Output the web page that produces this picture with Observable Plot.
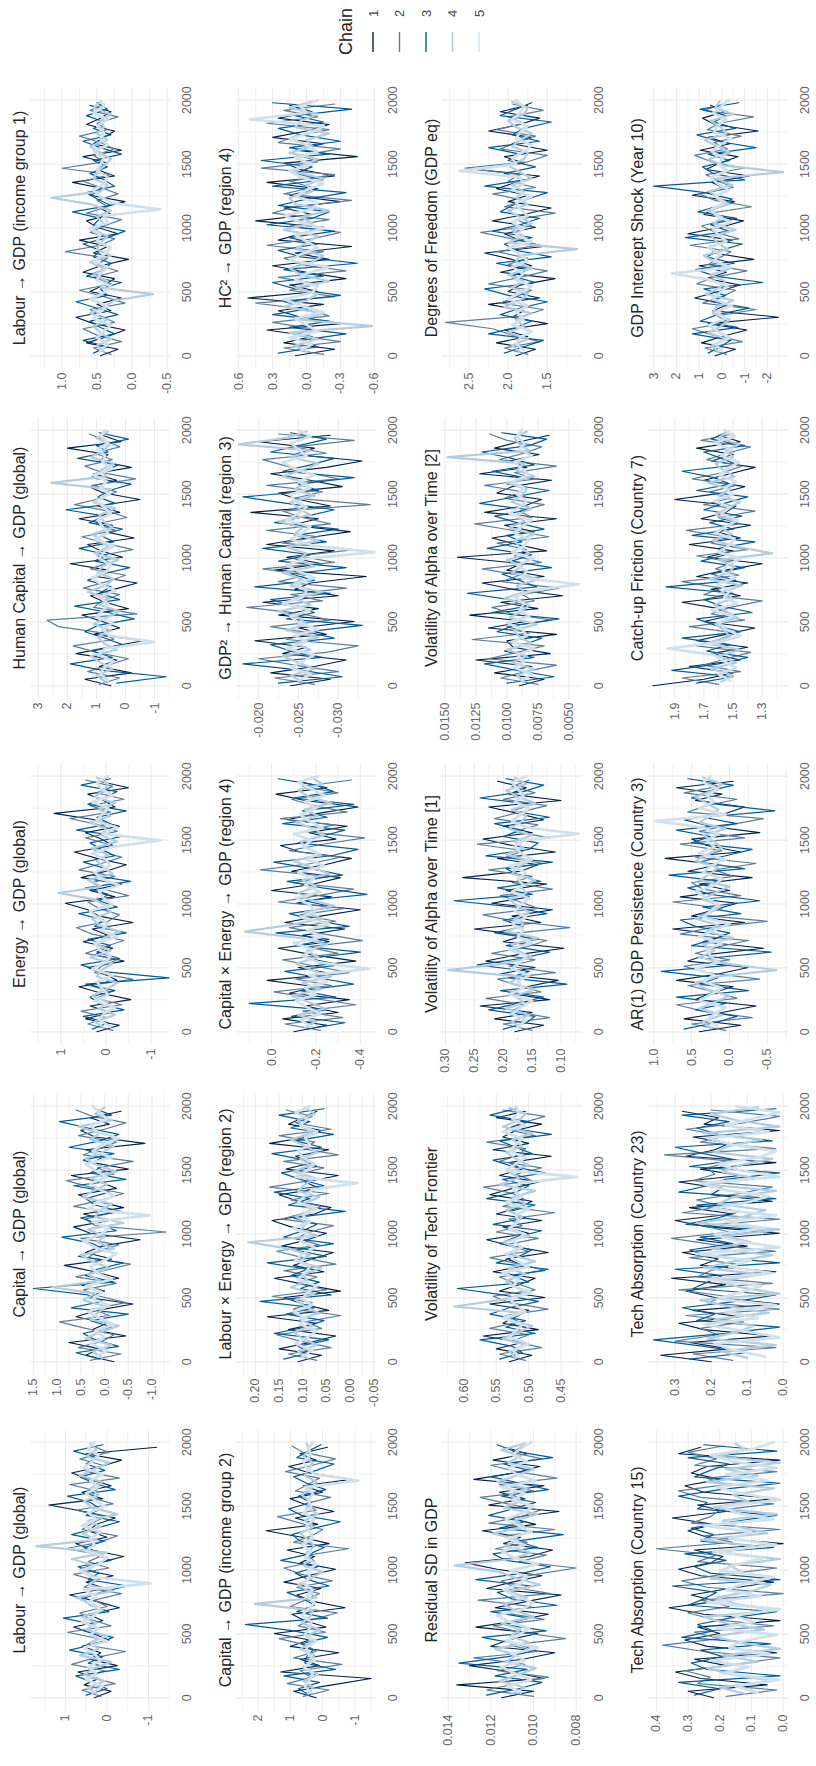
<!DOCTYPE html>
<html><head><meta charset="utf-8">
<script src="https://cdn.jsdelivr.net/npm/d3@7"></script>
<script src="https://cdn.jsdelivr.net/npm/@observablehq/plot@0.6"></script>
<style>
html,body{margin:0;padding:0;background:#fff;width:816px;height:1766px;overflow:hidden;}
#wrap{position:absolute;left:0;top:0;width:1766px;height:816px;transform-origin:0 0;transform:translate(0px,1766px) rotate(-90deg);font-family:"Liberation Sans",Arial,sans-serif;background:#fff;}
.cell{position:absolute;}
</style></head><body><div id="wrap"></div>
<script>
// ---- data (values in panel units; see `units`) ----
const chains = [1, 2, 3, 4, 5];
const chainColors = ["#011f4b", "#5b7d9d", "#005b96", "#b3cde0", "#d1e1ec"];
const titles = [
  "Labour → GDP (global)", "Capital → GDP (global)", "Energy → GDP (global)", "Human Capital → GDP (global)", "Labour → GDP (income group 1)",
  "Capital → GDP (income group 2)", "Labour × Energy → GDP (region 2)", "Capital × Energy → GDP (region 4)", "GDP² → Human Capital (region 3)", "HC² → GDP (region 4)",
  "Residual SD in GDP", "Volatility of Tech Frontier", "Volatility of Alpha over Time [1]", "Volatility of Alpha over Time [2]", "Degrees of Freedom (GDP eq)",
  "Tech Absorption (Country 15)", "Tech Absorption (Country 23)", "AR(1) GDP Persistence (Country 3)", "Catch-up Friction (Country 7)", "GDP Intercept Shock (Year 10)"
];
const units = [0.01, 0.01, 0.01, 0.01, 0.01, 0.01, 0.001, 0.01, 0.0001, 0.01, 0.0001, 0.001, 0.001, 0.0001, 0.01, 0.01, 0.01, 0.01, 0.01, 0.01];
const domains = [
  [-1.53, 1.84], [-1.39, 1.56], [-1.43, 1.67], [-1.55, 3.27], [-0.55, 1.45],
  [-1.67, 2.67], [-0.056, 0.24], [-0.473, 0.158], [-0.0348, -0.0172], [-0.62, 0.62],
  [0.0077, 0.01427], [0.417, 0.633], [0.063, 0.305], [0.0039, 0.0152], [1.05, 2.84],
  [-0.017, 0.425], [-0.015, 0.374], [-0.78, 1.07], [1.12, 2.08], [-2.93, 3.23]
];
const tickValues = [
  [-1, 0, 1], [-1, -0.5, 0, 0.5, 1, 1.5], [-1, 0, 1], [-1, 0, 1, 2, 3], [-0.5, 0, 0.5, 1],
  [-1, 0, 1, 2], [-0.05, 0, 0.05, 0.1, 0.15, 0.2], [-0.4, -0.2, 0], [-0.03, -0.025, -0.02], [-0.6, -0.3, 0, 0.3, 0.6],
  [0.008, 0.01, 0.012, 0.014], [0.45, 0.5, 0.55, 0.6], [0.1, 0.15, 0.2, 0.25, 0.3], [0.005, 0.0075, 0.01, 0.0125, 0.015], [1.5, 2, 2.5],
  [0, 0.1, 0.2, 0.3, 0.4], [0, 0.1, 0.2, 0.3], [-0.5, 0, 0.5, 1], [1.3, 1.5, 1.7, 1.9], [-2, -1, 0, 1, 2, 3]
];
const tickLabels = [
  ["-1", "0", "1"], ["-1.0", "-0.5", "0.0", "0.5", "1.0", "1.5"], ["-1", "0", "1"], ["-1", "0", "1", "2", "3"], ["-0.5", "0.0", "0.5", "1.0"],
  ["-1", "0", "1", "2"], ["-0.05", "0.00", "0.05", "0.10", "0.15", "0.20"], ["-0.4", "-0.2", "0.0"], ["-0.030", "-0.025", "-0.020"], ["-0.6", "-0.3", "0.0", "0.3", "0.6"],
  ["0.008", "0.010", "0.012", "0.014"], ["0.45", "0.50", "0.55", "0.60"], ["0.10", "0.15", "0.20", "0.25", "0.30"], ["0.0050", "0.0075", "0.0100", "0.0125", "0.0150"], ["1.5", "2.0", "2.5"],
  ["0.0", "0.1", "0.2", "0.3", "0.4"], ["0.0", "0.1", "0.2", "0.3"], ["-0.5", "0.0", "0.5", "1.0"], ["1.3", "1.5", "1.7", "1.9"], ["-2", "-1", "0", "1", "2", "3"]
];
const iterTicks = [0, 500, 1000, 1500, 2000];
const iterLabels = ["0", "500", "1000", "1500", "2000"];
const iterMinor = [250, 750, 1250, 1750];

const labourGlobal = [
  [30,-10,55,20,70,-25,40,15,60,-5,35,80,10,45,-30,25,90,5,50,-15,65,20,-40,35,75,0,45,25,-20,55,140,10,60,-10,40,85,15,-35,50,-120],
  [15,60,-20,45,5,85,30,-45,50,20,95,-10,40,65,0,30,-35,55,25,80,-5,45,10,100,20,-25,60,35,5,75,-15,40,25,90,-30,50,10,65,-5,35],
  [50,0,35,75,-30,45,10,90,25,-15,55,30,105,-5,40,60,15,-50,45,20,70,-10,35,55,5,85,25,-30,50,15,40,95,-20,30,65,5,50,25,80,10],
  [25,45,5,55,30,-10,65,20,40,0,50,25,60,10,35,75,-15,45,20,55,30,85,0,170,25,60,15,45,-25,35,55,20,40,10,65,30,-5,50,25,40],
  [35,10,50,25,45,15,30,55,0,40,20,60,30,15,45,25,55,-105,35,65,20,0,50,30,40,15,60,25,45,5,30,50,20,40,10,55,35,20,45,30]
];
const capitalGlobal = [
  [-20,40,10,75,-45,25,-5,60,15,-60,35,0,50,-30,20,85,-15,40,5,-75,30,65,-10,45,-40,15,55,-25,10,70,-50,25,0,40,-85,20,50,-10,30,-35],
  [30,-35,55,5,-20,40,95,-10,25,-45,10,45,-25,60,0,-55,35,15,-30,50,-130,20,40,-15,65,5,-40,30,80,-20,15,-60,45,10,-25,55,0,-45,25,60],
  [10,60,-30,20,45,-15,30,-50,70,5,35,150,-20,40,15,-40,55,0,25,90,-25,10,50,-35,20,40,-10,65,-45,30,5,45,-20,75,10,-30,35,95,-15,20],
  [5,25,-15,40,10,-30,30,15,-5,45,20,110,10,35,-10,25,50,-20,15,0,35,-40,20,10,-15,45,25,-5,30,-25,15,40,5,-20,30,10,55,-15,20,0],
  [15,-5,30,0,20,-20,10,35,-10,25,5,40,-15,15,30,0,-25,20,45,10,-10,25,-95,35,15,-20,10,30,-5,20,40,-15,25,5,-30,15,30,-5,10,25]
];
const energyGlobal = [
  [20,-30,45,-10,35,-55,10,60,-25,5,40,-40,25,-15,50,-5,30,-60,15,40,90,-20,35,-35,55,0,-45,20,70,-15,10,45,-30,25,115,-20,5,40,-50,15],
  [-15,40,0,55,-35,20,-10,35,-60,25,10,-25,45,5,-40,30,65,-5,-30,15,40,-50,5,30,-20,60,10,-35,25,-5,45,-25,15,80,-10,35,-40,20,-15,45],
  [30,-5,50,-40,15,35,-20,45,-140,10,55,-30,20,-10,40,-45,25,5,60,-25,15,-5,45,-55,30,0,50,-20,10,35,-35,65,-10,20,-45,40,5,-25,55,-10],
  [5,25,-20,15,-5,30,0,-25,20,10,-15,35,-10,20,5,-30,15,30,-10,0,25,105,10,40,-15,5,20,-5,30,-25,10,0,35,-10,15,-20,25,5,-5,20],
  [-10,15,5,-20,25,-5,10,20,-15,30,0,-10,15,25,-25,10,-5,20,35,-15,5,15,-30,10,25,-10,0,30,-15,-120,5,-25,20,10,-5,30,-15,10,20,-5]
];
const humanCapitalGlobal = [
  [50,140,-20,90,30,170,60,-60,110,20,80,150,-10,70,120,40,-40,100,60,190,10,85,130,-30,70,45,160,20,95,-50,75,125,30,110,-20,90,60,200,15,80],
  [90,20,130,60,-10,100,180,40,75,230,270,-40,110,80,20,145,65,0,120,55,95,-25,70,150,35,100,-5,60,175,85,30,115,-35,80,140,45,105,20,70,125],
  [30,-140,80,190,45,115,10,70,140,95,-30,60,175,20,90,50,130,80,-15,105,65,160,40,85,10,125,70,205,35,95,55,-20,120,75,25,165,60,100,-10,90],
  [70,100,45,85,120,30,75,95,50,110,65,20,90,55,130,70,40,95,80,25,105,60,85,115,45,75,90,35,110,70,50,255,65,85,40,120,75,55,100,60],
  [60,85,75,40,95,70,-100,55,80,45,100,75,60,90,35,85,115,65,50,90,75,40,105,60,80,95,50,75,100,55,85,65,110,45,80,70,95,60,85,70]
];
const labourIncome1 = [
  [45,20,65,35,10,55,80,30,50,15,60,40,25,70,45,5,55,35,75,20,50,65,30,45,10,60,40,85,25,50,35,70,15,55,40,25,65,45,30,60],
  [30,55,15,50,70,25,45,60,10,40,75,30,55,20,50,35,95,45,25,60,40,15,65,35,50,20,45,70,30,100,40,55,25,45,75,35,50,20,60,40],
  [55,35,70,25,45,60,20,50,80,35,45,15,65,40,30,55,45,70,35,10,55,45,85,30,50,65,25,40,60,35,55,15,45,70,30,55,40,65,35,50],
  [40,50,30,45,55,35,60,40,25,-30,45,35,55,40,60,30,50,45,35,55,40,50,30,60,115,45,35,55,50,40,30,45,60,35,50,40,45,30,55,45],
  [45,35,50,40,30,55,45,35,60,40,30,50,45,35,55,40,30,50,45,60,35,40,-40,30,45,55,40,35,50,45,40,55,35,45,40,50,35,55,40,45]
];
const capitalIncome2 = [
  [20,90,-30,-150,130,10,70,-50,100,40,150,-10,55,95,-70,30,80,5,120,45,-40,70,25,110,-20,65,175,15,85,-35,50,100,0,60,-90,40,105,20,70,-15],
  [60,-20,110,35,70,-60,90,20,50,135,-10,75,30,-45,100,55,10,80,-30,65,120,25,45,-80,90,35,0,70,140,20,55,-25,85,45,10,115,30,-40,60,95],
  [40,75,10,120,-40,55,50,30,65,-15,90,240,-15,80,25,60,110,-20,45,85,15,130,40,-5,70,95,25,-55,65,105,35,75,-10,50,90,20,-35,80,45,5],
  [45,30,60,15,55,40,25,70,35,50,10,65,40,30,210,20,45,75,35,0,60,40,50,25,45,70,30,55,15,50,40,65,35,20,55,45,30,60,40,50],
  [35,55,40,30,60,25,45,50,20,55,40,35,65,45,25,50,30,60,40,45,20,55,35,65,30,40,50,25,60,35,45,30,55,-110,25,50,60,35,45,30]
];
const labourEnergyR2 = [
  [110,60,150,85,30,130,70,175,45,100,140,20,95,160,55,120,80,35,145,90,50,125,165,75,40,110,150,65,95,25,135,80,115,45,170,90,60,130,100,70],
  [70,130,40,105,155,60,95,20,120,80,165,50,110,70,140,30,100,155,65,115,85,35,145,95,60,125,45,170,85,110,55,140,25,100,75,150,40,115,80,135],
  [140,85,110,45,160,95,55,135,75,190,40,105,65,125,90,175,50,115,35,140,100,70,120,10,130,85,160,55,105,145,70,95,165,60,115,35,125,85,150,55],
  [90,110,70,100,120,80,105,65,95,115,75,125,90,100,60,110,85,130,215,70,105,90,115,80,100,65,110,95,75,120,85,105,70,95,125,80,100,110,75,95],
  [100,80,115,90,70,105,95,120,80,100,90,70,110,95,85,115,100,75,105,90,120,85,100,70,110,95,80,-15,115,90,75,100,110,85,95,70,105,90,115,85]
];
const capitalEnergyR4 = [
  [-10,-25,-5,-30,-15,-35,-8,-20,2,-28,-12,-38,-18,-3,-26,-14,-33,-6,-22,-40,-11,-27,0,-19,-31,-9,-24,-36,-13,-4,-29,-17,-34,-7,-21,-39,-15,-2,-25,-12],
  [-22,-6,-32,-14,-38,-19,-1,-27,-11,-35,-20,-5,-30,-16,-41,-24,-8,-29,-13,-33,-3,-21,-37,-10,-26,5,-18,-31,-8,-23,-42,-15,-28,-4,-34,-19,-9,-30,-14,-36],
  [-16,-33,-9,-24,10,-29,-13,-37,-21,-6,-31,-17,-40,-11,-26,-2,-35,-19,-8,-28,-15,-43,-23,-7,-32,-18,-1,-27,-39,-12,-22,-33,-5,-25,-14,-37,-10,-28,-20,-3],
  [-15,-20,-12,-24,-17,-9,-22,-14,-27,-18,-11,-21,-16,-25,-13,12,-8,-23,-15,-28,-17,-12,-20,-14,-26,-18,-10,-22,-16,-13,-24,-19,-11,-21,-15,-27,-17,-12,-23,-18],
  [-18,-13,-22,-16,-11,-20,-15,-25,-17,-44,-21,-14,-19,-10,-23,-16,-26,-13,-20,-17,-11,-22,-15,-19,-12,-24,-16,-21,-14,-18,-10,-23,-17,-13,-20,-15,-24,-18,-12,-21]
];
const gdp2HumanCapR3 = [
  [-240,-290,-215,-270,-310,-230,-260,-195,-285,-250,-320,-225,-275,-205,-300,-245,-265,-335,-220,-280,-235,-295,-210,-260,-315,-240,-275,-190,-290,-250,-225,-305,-265,-215,-285,-330,-245,-270,-200,-290],
  [-270,-220,-300,-245,-200,-285,-325,-235,-265,-215,-290,-255,-185,-280,-240,-310,-225,-260,-205,-295,-250,-320,-230,-275,-210,-290,-255,-230,-340,-245,-280,-210,-300,-260,-235,-205,-285,-245,-320,-225],
  [-225,-305,-255,-180,-280,-240,-215,-295,-260,-330,-235,-270,-245,-215,-290,-195,-270,-240,-310,-225,-265,-205,-285,-245,-300,-220,-260,-295,-235,-180,-275,-250,-320,-230,-265,-295,-215,-250,-285,-240],
  [-255,-240,-270,-250,-230,-265,-245,-275,-235,-260,-250,-225,-265,-245,-280,-240,-255,-230,-270,-250,-260,-235,-275,-245,-255,-225,-265,-250,-240,-270,-245,-260,-230,-255,-275,-240,-265,-175,-235,-260],
  [-250,-265,-240,-255,-270,-235,-260,-245,-275,-250,-240,-265,-230,-255,-260,-245,-270,-250,-235,-260,-345,-270,-240,-255,-265,-235,-250,-260,-245,-240,-265,-250,-270,-245,-230,-260,-250,-240,-265,-250]
];
const hc2GdpR4 = [
  [10,-25,20,-5,35,-30,5,25,-15,52,-10,15,-35,0,30,-20,10,-40,25,5,-15,45,-5,20,-30,15,-10,35,-25,5,20,-45,10,-15,30,0,-20,25,-5,15],
  [-15,20,-30,10,-5,30,-20,0,45,-25,15,-10,25,-35,5,20,-15,35,-5,-30,15,-20,30,10,-40,20,-5,15,-25,40,-10,5,-30,25,10,-20,35,-10,20,-25],
  [25,-10,5,-35,15,-20,30,-5,20,-30,10,30,-15,20,-45,5,25,-10,15,-25,35,-5,-20,25,0,-35,30,-15,10,-5,40,-20,15,-30,5,25,-15,10,-40,30],
  [0,10,-10,15,-58,5,-15,20,0,-10,10,-20,5,15,-5,-15,10,0,-10,20,-5,5,-20,10,15,-5,0,-15,10,5,-10,15,-5,0,-20,10,5,-10,15,-5],
  [5,-5,15,-10,0,10,-15,5,20,-5,-10,10,0,-20,15,5,-10,0,10,-15,5,20,-5,-10,10,0,-15,5,15,-5,10,-10,0,15,-5,-15,50,0,5,-10]
];
const residualSD = [
  [115,100,136,95,110,130,105,90,120,112,98,127,108,93,118,103,87,122,110,96,117,132,102,91,114,106,124,99,111,88,121,104,116,95,128,109,97,119,103,113],
  [100,122,108,93,117,104,128,98,111,85,106,119,95,113,101,126,92,109,115,99,80,107,94,118,103,114,90,121,106,97,112,125,100,116,89,108,120,96,110,105],
  [122,107,96,118,103,135,112,99,108,124,94,114,102,120,89,110,117,101,127,105,92,113,119,98,108,86,116,104,121,110,99,115,93,106,120,102,114,91,109,117],
  [110,104,116,107,99,113,108,118,102,111,106,115,100,109,114,103,112,97,108,116,137,110,101,113,107,119,104,109,98,114,106,111,103,117,108,100,112,106,115,104],
  [106,112,101,109,115,104,110,98,113,107,102,111,117,105,100,108,114,106,103,111,98,109,115,104,112,101,107,113,105,100,110,104,115,99,108,112,103,110,106,101]
];
const volTechFrontier = [
  [530,495,550,510,570,485,540,520,500,560,475,545,515,490,555,505,535,470,525,565,500,540,480,550,515,495,560,525,485,545,510,530,465,555,500,540,520,480,550,505],
  [505,545,480,525,500,560,515,535,470,530,555,490,520,545,475,515,560,500,535,485,550,510,530,460,540,505,525,570,495,520,480,545,515,505,565,490,535,510,475,540],
  [545,510,525,575,490,535,505,560,530,485,540,610,500,525,470,550,515,495,545,520,480,555,505,530,490,565,520,500,540,475,525,555,495,520,545,465,530,500,560,520],
  [520,530,505,540,515,495,535,510,615,545,500,520,535,505,530,490,525,515,540,500,530,520,510,535,505,525,490,545,515,530,500,520,535,510,525,495,540,515,505,530],
  [515,525,500,530,520,510,540,505,520,530,495,525,515,540,500,520,535,510,525,505,530,515,520,500,535,510,525,515,425,535,520,505,530,520,510,540,505,525,515,520]
];
const volAlpha1 = [
  [180,130,215,150,240,120,190,160,105,205,145,230,175,95,200,165,250,135,185,115,220,155,195,125,270,170,140,210,110,185,235,150,200,130,175,225,100,190,160,210],
  [150,200,120,185,165,230,135,175,210,110,190,145,220,160,125,195,85,180,235,140,170,205,115,185,150,225,130,195,165,245,120,180,140,215,170,125,200,145,185,155],
  [200,160,145,225,175,130,205,90,190,155,245,170,120,195,140,215,165,200,125,180,285,150,210,135,175,195,115,230,155,140,200,170,215,120,185,150,240,165,130,195],
  [170,185,155,195,165,180,145,190,170,295,200,150,175,185,140,195,165,180,155,175,190,160,170,145,185,175,155,195,165,180,150,190,170,160,185,145,175,195,160,180],
  [175,160,185,170,150,190,165,175,155,185,170,160,190,150,175,165,185,160,180,170,155,185,165,175,160,190,150,170,180,165,70,160,185,170,155,180,165,175,185,160]
];
const volAlpha2 = [
  [90,70,110,80,125,65,95,100,60,115,85,130,75,105,55,95,120,70,100,88,140,68,92,112,78,102,60,118,86,72,108,96,64,122,84,98,74,110,90,66],
  [75,105,85,60,115,92,70,128,82,100,64,96,112,78,88,58,104,90,120,72,94,84,108,66,96,126,80,90,70,102,88,118,76,94,60,106,86,72,100,114],
  [100,62,92,118,78,102,86,72,108,94,58,112,84,98,132,76,90,104,64,96,80,116,88,100,70,92,110,82,122,94,66,100,86,112,78,96,120,82,68,104],
  [86,92,78,96,84,100,80,90,94,76,98,88,82,102,86,92,74,96,88,100,82,90,94,78,98,86,92,80,96,88,84,100,78,92,86,148,82,90,94,84],
  [88,80,94,86,92,78,96,84,88,100,82,90,86,94,80,42,88,84,92,78,96,86,82,94,88,80,98,90,84,92,86,96,82,88,94,80,90,86,92,88]
];
const dofGDP = [
  [190,165,215,175,205,150,195,180,225,160,200,185,140,210,170,195,230,155,185,205,165,220,180,145,200,175,215,190,160,240,180,205,150,195,170,225,185,160,210,175],
  [175,205,160,195,220,280,180,155,210,190,170,225,185,150,200,175,215,160,195,235,170,190,140,205,180,220,165,200,185,255,175,150,210,190,165,215,180,200,155,195],
  [205,180,155,225,190,170,210,185,150,200,230,165,195,175,215,145,190,205,170,220,185,160,210,195,175,150,230,180,205,165,200,185,225,160,195,180,145,210,190,170],
  [185,195,175,200,180,190,170,205,185,175,195,180,200,170,190,185,112,200,180,195,170,185,200,175,190,180,195,170,185,200,180,175,195,185,170,190,200,180,175,195],
  [180,190,185,170,195,180,190,175,200,185,170,190,180,195,175,185,200,170,190,180,195,175,185,190,170,195,180,185,262,190,195,180,170,190,185,175,195,185,180,190]
];
const techAbs15 = [
  [22,30,5,26,34,18,28,2,24,31,20,27,1,25,36,21,29,17,3,26,33,23,19,28,0,24,30,22,35,18,27,2,25,31,20,29,24,1,33,26],
  [18,2,27,23,31,15,1,25,38,20,28,3,22,30,17,26,0,24,32,19,2,27,21,40,16,25,1,29,23,20,3,26,33,18,24,2,28,21,30,19],
  [28,20,33,1,24,29,19,26,4,32,22,27,17,2,30,25,21,35,1,23,28,18,31,3,26,22,29,16,2,27,24,33,20,1,28,23,17,30,2,25],
  [12,20,3,16,24,8,19,1,14,22,6,18,25,2,15,21,10,4,23,13,17,1,20,9,26,5,14,19,2,22,11,16,3,24,8,18,1,21,12,15],
  [8,15,1,19,11,23,4,17,13,2,21,9,16,1,24,7,18,12,3,20,14,6,22,2,17,10,25,3,15,19,1,13,21,5,18,2,16,23,9,3]
];
const techAbs23 = [
  [20,34,15,26,3,22,29,12,25,1,19,27,16,31,2,23,18,28,10,24,1,21,30,14,26,3,20,17,29,12,23,2,27,19,15,25,1,22,18,28],
  [14,25,2,30,18,23,11,27,1,21,16,29,3,24,20,13,26,2,19,31,15,22,1,28,17,24,12,3,25,19,21,14,33,2,23,16,27,11,1,20],
  [26,10,22,36,16,1,24,19,28,13,2,25,21,17,30,1,20,26,14,23,3,27,18,12,24,2,29,21,16,1,26,13,22,30,3,18,24,15,28,2],
  [10,17,2,21,13,8,19,4,15,23,1,12,18,6,22,14,3,20,9,16,1,24,11,5,18,14,2,21,8,17,12,3,19,15,6,22,1,13,20,7],
  [5,14,19,1,11,22,7,16,2,18,12,6,21,3,15,9,24,1,13,19,5,16,2,20,10,4,17,23,1,12,18,7,2,14,21,4,16,9,1,13]
];
const ar1Persist3 = [
  [40,-15,60,10,-35,45,25,-5,70,15,-25,55,30,-45,35,5,75,-20,50,20,-10,65,0,40,-30,55,15,85,-15,30,50,-40,25,60,5,-20,45,10,70,-5],
  [5,50,-30,35,70,-10,20,55,-40,30,60,0,45,15,-25,65,25,-50,40,10,75,-15,35,50,-5,20,-35,45,10,65,-20,40,0,-45,55,30,-10,60,15,40],
  [60,20,-10,45,5,70,-25,40,15,90,-5,30,-55,50,20,0,45,65,-15,35,-40,25,55,10,80,-20,40,5,-30,50,25,70,-10,35,-60,15,50,30,-5,55],
  [25,35,10,40,20,0,30,45,15,-62,5,40,20,35,-5,30,15,45,25,10,35,20,0,40,25,15,45,30,10,20,35,5,40,25,15,30,45,20,10,35],
  [15,30,20,5,40,25,10,35,20,45,15,25,30,10,40,20,0,35,25,15,30,45,20,10,35,25,5,40,20,30,15,35,97,5,40,20,30,15,35,25]
];
const catchUp7 = [
  [205,170,150,180,145,165,140,175,155,135,170,150,160,185,145,165,140,175,155,130,168,150,180,145,162,138,172,155,148,190,158,142,170,152,135,165,150,175,145,160],
  [160,185,145,170,155,138,175,160,148,180,142,165,152,130,170,158,185,146,162,150,175,140,165,155,182,145,160,135,170,152,166,148,178,157,144,168,154,138,172,150],
  [175,150,192,160,140,168,152,185,145,162,175,137,158,170,150,196,148,165,142,172,155,160,135,178,150,166,144,170,156,140,175,152,163,185,147,158,170,142,165,155],
  [158,150,165,148,160,145,168,152,156,162,147,155,163,150,158,144,166,153,149,160,123,146,164,151,158,148,162,155,145,160,152,167,149,157,162,150,155,146,160,153],
  [152,160,148,156,163,195,158,145,155,160,150,165,147,156,152,161,148,157,154,145,160,153,149,162,155,147,158,152,163,150,156,148,160,154,146,158,151,163,149,156]
];
const gdpShock10 = [
  [30,-60,90,0,-110,60,-250,40,-30,120,15,-80,70,-20,100,-140,35,55,-45,150,5,-95,80,25,-55,130,-15,45,-120,70,10,-70,95,-35,60,-160,30,85,-10,50],
  [-20,75,-90,40,130,-30,20,-150,85,0,-60,110,35,-110,60,15,-40,140,-75,25,90,-20,50,-130,30,100,-50,15,70,-95,45,120,-25,35,-85,65,10,-140,80,-5],
  [60,10,-40,130,-70,95,20,-120,45,-15,80,-180,30,115,-55,70,5,-90,160,-30,50,-65,105,10,-45,75,300,-100,40,85,-35,60,-150,20,110,-60,35,-20,95,-75],
  [15,45,-20,60,5,-35,40,25,-50,70,10,-15,50,-40,30,80,-25,20,45,-60,35,0,65,-30,15,55,-45,25,-270,-10,60,-35,20,75,-20,5,50,-50,30,10],
  [0,30,-35,20,55,-15,25,-45,40,10,-25,50,220,-35,35,5,60,-20,15,40,-40,25,45,-10,30,-30,20,50,-25,15,-5,45,10,-40,35,20,-20,40,5,-30]
];
const series = [labourGlobal, capitalGlobal, energyGlobal, humanCapitalGlobal, labourIncome1,
  capitalIncome2, labourEnergyR2, capitalEnergyR4, gdp2HumanCapR3, hc2GdpR4,
  residualSD, volTechFrontier, volAlpha1, volAlpha2, dofGDP,
  techAbs15, techAbs23, ar1Persist3, catchUp7, gdpShock10];

// ---- layout (landscape frame, rotated to portrait) ----
const FONT = "Liberation Sans, Arial, sans-serif";
const wrap = document.getElementById("wrap");
const colLeft = [55, 391, 721, 1067, 1397];
const rowTop = [30, 236, 442, 648];
const PW = 281, PH = 140, ML = 50, MR = 6, MT = 30, MB = 30;
const GRID = "#ebebeb";
const chainWidths = [1.1, 1.2, 1.2, 2.2, 2.7];

series.forEach((s, p) => {
  const r = Math.floor(p / 5), c = p % 5;
  const u = units[p];
  const lines = s.map((vals, k) => vals.map((v, i) => ({it: 1 + (i + k / 5) * 1999 / (vals.length - 0.2), v: v * u})));
  const tv = tickValues[p], tl = tickLabels[p];
  const step = tv[1] - tv[0];
  const dom = domains[p];
  const minor = [tv[0] - step / 2, ...tv.map(t => t + step / 2)].filter(t => t > dom[0] && t < dom[1]);
  const fmt = new Map(tv.map((t, i) => [t, tl[i]]));
  const xfmt = new Map(iterTicks.map((t, i) => [t, iterLabels[i]]));
  const fig = Plot.plot({
    width: ML + PW + MR, height: MT + PH + MB,
    marginLeft: ML, marginRight: MR, marginTop: MT, marginBottom: MB,
    style: {fontFamily: FONT, background: "transparent", overflow: "visible"},
    x: {domain: [-99, 2099], label: null},
    y: {domain: dom, label: null},
    marks: [
      Plot.gridX(iterMinor, {stroke: GRID, strokeOpacity: 1, strokeWidth: 0.6}),
      Plot.gridY(minor, {stroke: GRID, strokeOpacity: 1, strokeWidth: 0.6}),
      Plot.gridX(iterTicks, {stroke: GRID, strokeOpacity: 1, strokeWidth: 1.1}),
      Plot.gridY(tv, {stroke: GRID, strokeOpacity: 1, strokeWidth: 1.1}),
      ...lines.map((ln, k) => Plot.line(ln, {x: "it", y: "v", stroke: chainColors[k], strokeWidth: chainWidths[k]})),
      Plot.axisY(tv, {tickSize: 0, tickPadding: 4, tickFormat: d => fmt.get(d), fontSize: 12.5, fill: "#666", label: null}),
      Plot.axisX(iterTicks, {tickSize: 0, tickPadding: 12, tickFormat: d => xfmt.get(d), fontSize: 12.5, fill: "#666", label: null}),
      Plot.text([titles[p]], {frameAnchor: "top", dy: -6, lineAnchor: "bottom", fontSize: 16, fill: "#262626"})
    ]
  });
  const cell = document.createElement("div");
  cell.className = "cell";
  cell.style.left = (colLeft[c] - ML) + "px";
  cell.style.top = (rowTop[r] - MT) + "px";
  cell.appendChild(fig);
  wrap.appendChild(cell);
});

// ---- legend ----
const leg = d3.create("svg").attr("width", 66).attr("height", 190)
  .style("position", "absolute").style("left", "1700px").style("top", "320px").style("overflow", "visible")
  .attr("font-family", FONT);
leg.append("text").attr("x", 11).attr("y", 32).attr("font-size", 18).attr("fill", "#222").text("Chain");
chains.forEach((ch, k) => {
  const y = 53 + k * 26.5;
  leg.append("line").attr("x1", 14).attr("x2", 34).attr("y1", y).attr("y2", y)
    .attr("stroke", chainColors[k]).attr("stroke-width", 1.4);
  leg.append("text").attr("x", 49).attr("y", y).attr("dy", "0.35em").attr("font-size", 13).attr("fill", "#444").text(ch);
});
wrap.appendChild(leg.node());
</script></body></html>
